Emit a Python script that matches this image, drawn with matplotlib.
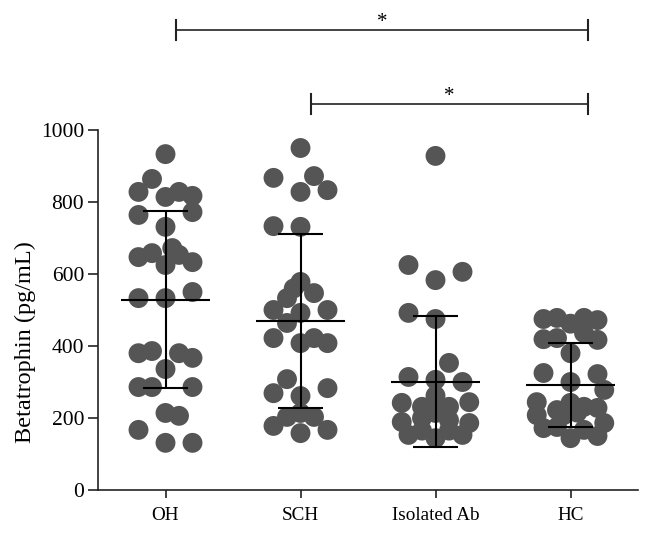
import matplotlib
matplotlib.use("Agg")
import matplotlib.pyplot as plt
import numpy as np

# ---- data ----
categories = ["OH", "SCH", "Isolated Ab", "HC"]

oh_values = [933, 864, 828, 814, 828, 817, 764, 772, 731, 672, 647, 658, 625, 653, 633,
             533, 533, 550, 380, 386, 380, 367, 336, 286, 286, 286, 214, 206, 167, 131, 131]
sch_values = [950, 867, 872, 828, 833, 733, 731, 578, 560, 547, 533, 500, 492, 500, 464,
              422, 408, 422, 408, 308, 269, 261, 283, 203, 214, 203, 178, 158, 167]
iso_values = [928, 625, 606, 583, 492, 475, 353, 314, 306, 300, 242, 231, 262, 231, 244,
              189, 200, 214, 194, 186, 153, 165, 144, 165, 153]
hc_values = [475, 478, 462, 478, 472, 419, 422, 436, 417, 380, 325, 300, 322, 278,
             244, 222, 242, 231, 228, 208, 208, 215, 186, 172, 175, 167, 144, 150]

group_means = [528, 469, 301, 291]
group_sds = [246, 242, 182, 117]

y_ticks = [0, 200, 400, 600, 800, 1000]
sig_pairs = [(0, 3), (1, 3)]
sig_labels = ["*", "*"]

# ---- layout (horizontal slots of the scatter columns) ----
oh_slots = [0, -1, -2, 0, 1, 2, -2, 2, 0, 0.5, -2, -1, 0, 1, 2,
            -2, 0, 2, -2, -1, 1, 2, 0, -2, -1, 2, 0, 1, -2, 0, 2]
sch_slots = [0, -2, 1, 0, 2, -2, 0, 0, -0.5, 1, -1, -2, 0, 2, -1,
             -2, 0, 1, 2, -1, -2, 0, 2, -1, 0, 1, -2, 0, 2]
iso_slots = [0, -2, 2, 0, -2, 0, 1, -2, 0, 2, -2.5, -1, 0, 1, 2.5,
             -2.5, -1, 0, 1, 2.5, -2, -1, 0, 1, 2]
hc_slots = [-2, -1, 0, 1, 2, -2, -1, 1, 2, 0, -2, 0, 2, 2.5,
            -2.5, -1, 0, 1, 2, -2.5, -0.5, 0.5, 2.5, -2, -1, 1, 0, 2]

all_values = [oh_values, sch_values, iso_values, hc_values]
all_slots = [oh_slots, sch_slots, iso_slots, hc_slots]

plt.rcParams['font.family'] = ['Liberation Serif', 'DejaVu Serif']

fig = plt.figure(figsize=(6.53, 5.38), dpi=100)
ax = fig.add_axes([98/653, 48/538, 540/653, 360/538])

slot_w = 0.1
dot_color = "#555555"
for i, (vals, slots) in enumerate(zip(all_values, all_slots)):
    xs = i + np.array(slots) * slot_w
    ax.scatter(xs, vals, s=205, color=dot_color, edgecolors='none', zorder=2, clip_on=False)

line_kw = dict(color="black", lw=1.5, zorder=3, solid_capstyle='butt')
for i, (m, sd) in enumerate(zip(group_means, group_sds)):
    ax.plot([i - 0.33, i + 0.33], [m, m], **line_kw)
    ax.plot([i, i], [m - sd, m + sd], **line_kw)
    ax.plot([i - 0.165, i + 0.165], [m + sd, m + sd], **line_kw)
    ax.plot([i - 0.165, i + 0.165], [m - sd, m - sd], **line_kw)

ax.set_xlim(-0.5, 3.5)
ax.set_ylim(0, 1000)
ax.set_xticks(range(len(categories)))
ax.set_xticklabels(categories, fontsize=13.8)
ax.set_yticks(y_ticks)
ax.set_yticklabels([str(t) for t in y_ticks], fontsize=15.5)
ax.set_ylabel("Betatrophin (pg/mL)", fontsize=17.5)
ax.yaxis.set_label_coords(-0.115, 0.41)

for side in ["top", "right"]:
    ax.spines[side].set_visible(False)
for side in ["left", "bottom"]:
    ax.spines[side].set_linewidth(1.2)
    ax.spines[side].set_color("#222222")
ax.tick_params(axis='y', length=7, width=1.2, color="#222222", pad=3)
ax.tick_params(axis='x', length=6, width=1.2, color="#222222", pad=6)

# significance bars
sig_heights = [1278, 1072]
left_off = [0.075, 0.08]
right_off = [0.13, 0.13]
half_tick = 28
for (a, b), lab, h, lo, ro in zip(sig_pairs, sig_labels, sig_heights, left_off, right_off):
    x0, x1 = a + lo, b + ro
    ax.plot([x0, x1], [h, h], color="#222222", lw=1.2, clip_on=False)
    ax.plot([x0, x0], [h - half_tick, h + half_tick], color="#222222", lw=1.5, clip_on=False)
    ax.plot([x1, x1], [h - half_tick, h + half_tick], color="#222222", lw=1.5, clip_on=False)
    ax.text((x0 + x1) / 2, h - 6, lab, ha='center', va='bottom', fontsize=15, clip_on=False)

fig.savefig("out.png", dpi=100)
